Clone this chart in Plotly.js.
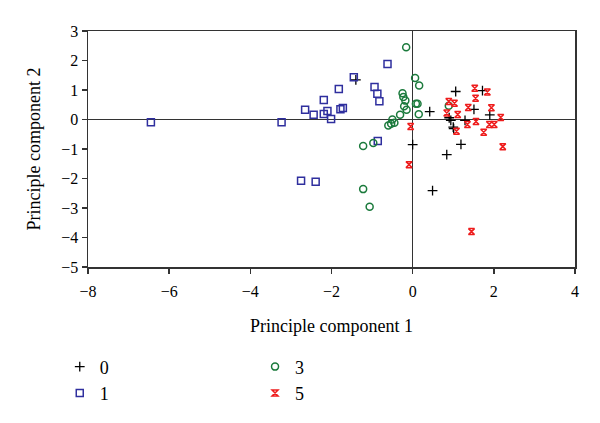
<!DOCTYPE html>
<html>
<head>
<meta charset="utf-8">
<script src="https://cdn.plot.ly/plotly-3.0.1.min.js"></script>
<style>
  body { margin: 0; background: #fff; }
  #chart { width: 600px; height: 423px; }
</style>
</head>
<body>
<div id="chart"></div>
<script>
// group 0
const x0 = [-1.40, 1.06, 1.72, 0.42, 1.51, 1.90, 0.90, 0.94, 1.29, 1.00, 1.01, 0.00, 1.19, 0.84, 0.49];
const y0 = [1.34, 0.95, 0.98, 0.27, 0.34, 0.16, 0.06, -0.03, -0.03, -0.26, -0.31, -0.85, -0.84, -1.19, -2.41];

// group 1
const x1 = [-6.45, -3.23, -0.62, -1.45, -1.82, -0.94, -0.87, -0.82, -2.19, -2.65, -2.44, -2.19, -2.10, -2.01, -1.78, -1.72, -0.86, -2.75, -2.39];
const y1 = [-0.09, -0.09, 1.88, 1.43, 1.03, 1.10, 0.87, 0.62, 0.66, 0.33, 0.16, 0.19, 0.29, 0.02, 0.35, 0.39, -0.73, -2.08, -2.11];

// group 3
const x3 = [-0.16, 0.06, 0.16, -0.25, -0.23, -0.18, -0.21, -0.15, 0.08, 0.12, 0.15, -0.31, -0.50, -0.45, -0.53, -0.60, -0.97, -1.22, -1.22, -1.06, 0.89];
const y3 = [2.45, 1.41, 1.15, 0.89, 0.76, 0.64, 0.45, 0.33, 0.53, 0.53, 0.18, 0.16, 0.00, -0.11, -0.14, -0.20, -0.80, -0.90, -2.36, -2.96, 0.47];

// group 5
const x5 = [1.53, 1.84, 1.55, 0.89, 1.03, 1.37, 1.94, 0.84, 1.11, 2.17, 1.35, 1.56, 1.89, 2.01, 1.08, 1.75, 2.22, -0.05, -0.09, 1.45];
const y5 = [1.06, 0.93, 0.72, 0.61, 0.55, 0.41, 0.40, 0.22, 0.17, 0.07, -0.17, -0.07, -0.17, -0.17, -0.40, -0.43, -0.92, -0.24, -1.53, -3.80];

const xTicks = [-8, -6, -4, -2, 0, 2, 4];
const yTicks = [-5, -4, -3, -2, -1, 0, 1, 2, 3];

const serif = 'Liberation Serif, Times New Roman, serif';

const data = [
    {
        x: x0, y: y0, name: '0', type: 'scatter', mode: 'markers', legend: 'legend',
        marker: { symbol: 'cross-thin-open', size: 7, color: '#000', line: { color: '#000', width: 1.3 } }
    },
    {
        x: x1, y: y1, name: '1', type: 'scatter', mode: 'markers', legend: 'legend',
        marker: { symbol: 'square-open', size: 7, color: '#2f2f9e', line: { color: '#2f2f9e', width: 1.5 } }
    },
    {
        x: x3, y: y3, name: '3', type: 'scatter', mode: 'markers', legend: 'legend2',
        marker: { symbol: 'circle-open', size: 7, color: '#1b7a3c', line: { color: '#1b7a3c', width: 1.5 } }
    },
    {
        x: x5, y: y5, name: '5', type: 'scatter', mode: 'markers', legend: 'legend2',
        marker: { symbol: 'hourglass-open', size: 6, color: '#ee1c1c', line: { color: '#ee1c1c', width: 1.5 } }
    }
];

const legendBase = {
    orientation: 'v',
    xanchor: 'left', yanchor: 'top',
    font: { family: serif, size: 18, color: '#000' },
    bgcolor: 'rgba(0,0,0,0)',
    tracegroupgap: 0,
    itemwidth: 30
};

const layout = {
    width: 600,
    height: 423,
    margin: { l: 88, r: 25, t: 31, b: 154 },
    paper_bgcolor: '#fff',
    plot_bgcolor: '#fff',
    font: { family: serif, size: 16, color: '#000' },
    showlegend: true,
    xaxis: {
        range: [-8, 4],
        tickvals: xTicks,
        ticks: 'outside', ticklen: 5, tickwidth: 1.5, tickcolor: '#333',
        ticklabelstandoff: 4,
        showgrid: false,
        zeroline: true, zerolinecolor: '#333', zerolinewidth: 1.5,
        showline: true, mirror: true, linecolor: '#333', linewidth: 1.5,
        tickfont: { family: serif, size: 16 },
        title: { text: 'Principle component 1', font: { family: serif, size: 18 }, standoff: 20 }
    },
    yaxis: {
        range: [-5, 3],
        tickvals: yTicks,
        ticks: 'outside', ticklen: 5, tickwidth: 1.5, tickcolor: '#333',
        showgrid: false,
        zeroline: true, zerolinecolor: '#333', zerolinewidth: 1.5,
        showline: true, mirror: true, linecolor: '#333', linewidth: 1.5,
        tickfont: { family: serif, size: 16 },
        title: { text: 'Principle component 2', font: { family: serif, size: 18 }, standoff: 16 }
    },
    legend: Object.assign({}, legendBase, { x: -0.058, y: -0.345 }),
    legend2: Object.assign({}, legendBase, { x: 0.343, y: -0.345 })
};

Plotly.newPlot('chart', data, layout, { displayModeBar: false, staticPlot: true });
</script>
</body>
</html>
